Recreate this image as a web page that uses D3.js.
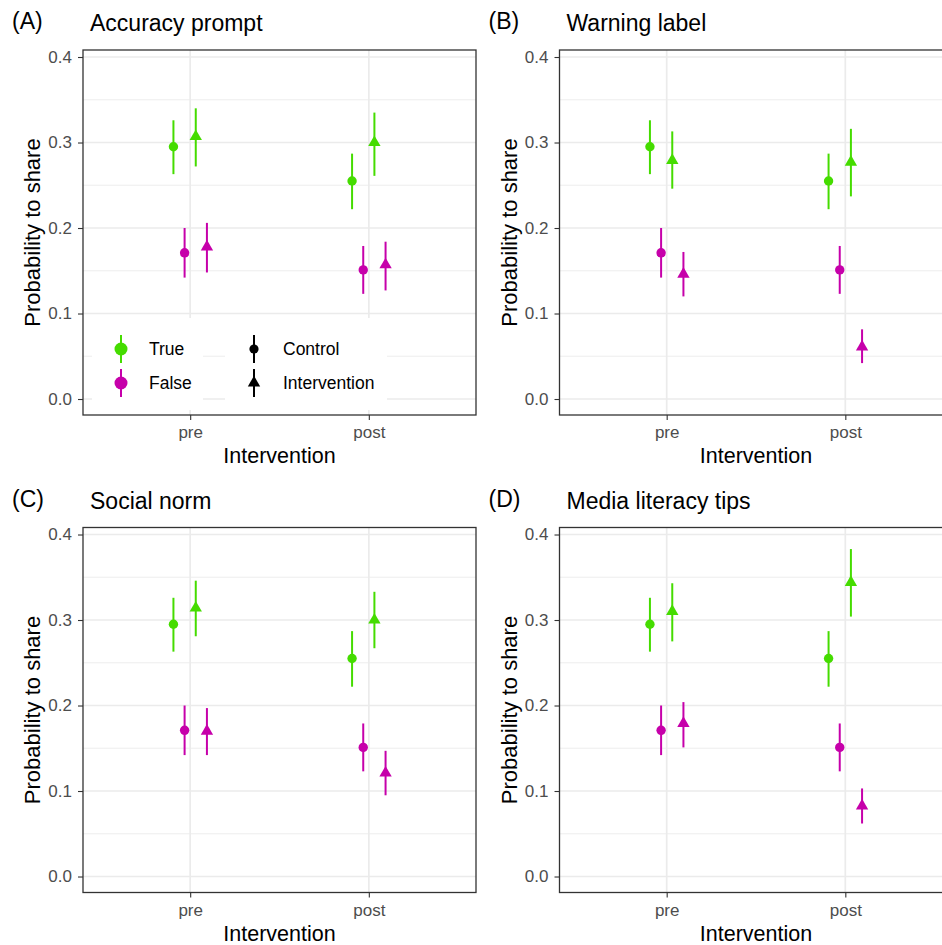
<!DOCTYPE html>
<html>
<head>
<meta charset="utf-8">
<script src="https://cdn.jsdelivr.net/npm/d3@7"></script>
<style>
  body { margin: 0; background: #fff; }
  svg { font-family: "Liberation Sans", Arial, Helvetica, sans-serif; }
  .tick text { fill: #4D4D4D; font-size: 17px; }
  .tick line { stroke: #333333; stroke-width: 1.1; }
</style>
</head>
<body>
<svg width="942" height="945"></svg>
<script>
// ---- data ----
var panelNames = ['Accuracy prompt', 'Warning label', 'Social norm', 'Media literacy tips'];
var panelTags = ['(A)', '(B)', '(C)', '(D)'];
var times = ['pre', 'post'];
var veracity = ['True', 'False'];
var groups = ['Control', 'Intervention'];
var yTicks = [0, 0.1, 0.2, 0.3, 0.4];
var yMinor = [0.05, 0.15, 0.25, 0.35];

// control group is the same in every panel (pre, post)
var controlTrue = [0.295, 0.255];
var controlTrueLo = [0.263, 0.222];
var controlTrueHi = [0.326, 0.287];
var controlFalse = [0.171, 0.151];
var controlFalseLo = [0.142, 0.123];
var controlFalseHi = [0.200, 0.179];

// intervention group, one row per panel (pre, post)
var interTrue = [[0.307, 0.300], [0.279, 0.277], [0.314, 0.300], [0.310, 0.344]];
var interTrueLo = [[0.272, 0.261], [0.246, 0.237], [0.281, 0.267], [0.275, 0.304]];
var interTrueHi = [[0.340, 0.335], [0.313, 0.316], [0.346, 0.333], [0.343, 0.383]];
var interFalse = [[0.178, 0.157], [0.146, 0.061], [0.170, 0.121], [0.179, 0.0825]];
var interFalseLo = [[0.148, 0.127], [0.120, 0.042], [0.142, 0.095], [0.151, 0.062]];
var interFalseHi = [[0.206, 0.184], [0.172, 0.0815], [0.197, 0.147], [0.204, 0.103]];

var colors = {True: '#45DC00', False: '#C600AA'};

// ---- layout ----
var svg = d3.select('svg');
var panelW = 393, panelH = 365;
var lefts = [83, 559.5], tops = [50, 527.5];
var dodgeW = 0.25;
// dodge order: Control-True, Control-False, Intervention-True, Intervention-False
var dodge = function(g, v) {
    var k = groups.indexOf(g) * 2 + veracity.indexOf(v);
    return dodgeW * ((k + 0.5) / 4 - 0.5);
};

var xScale = d3.scaleLinear().domain([0.4, 2.6]).range([0, panelW]);
var yScale = d3.scaleLinear().domain([-0.0187, 0.4082]).range([panelH, 0]);

var triangle = d3.symbol().type(d3.symbolTriangle).size(66);

function rows(p) {
    var out = [];
    times.forEach(function(t, ti) {
        out.push({t: ti, g: 'Control', v: 'True', m: controlTrue[ti], lo: controlTrueLo[ti], hi: controlTrueHi[ti]});
        out.push({t: ti, g: 'Control', v: 'False', m: controlFalse[ti], lo: controlFalseLo[ti], hi: controlFalseHi[ti]});
        out.push({t: ti, g: 'Intervention', v: 'True', m: interTrue[p][ti], lo: interTrueLo[p][ti], hi: interTrueHi[p][ti]});
        out.push({t: ti, g: 'Intervention', v: 'False', m: interFalse[p][ti], lo: interFalseLo[p][ti], hi: interFalseHi[p][ti]});
    });
    return out;
}

panelNames.forEach(function(name, p) {
    var tx = lefts[p % 2], ty = tops[Math.floor(p / 2)];
    var g = svg.append('g').attr('transform', 'translate(' + [tx, ty] + ')');

    // grid
    g.selectAll('.minor').data(yMinor).enter().append('line')
        .attr('x1', 0).attr('x2', panelW)
        .attr('y1', d => yScale(d)).attr('y2', d => yScale(d))
        .attr('stroke', '#EBEBEB').attr('stroke-width', 0.9);
    g.selectAll('.major').data(yTicks).enter().append('line')
        .attr('x1', 0).attr('x2', panelW)
        .attr('y1', d => yScale(d)).attr('y2', d => yScale(d))
        .attr('stroke', '#EBEBEB').attr('stroke-width', 1.7);
    g.selectAll('.vmajor').data(times).enter().append('line')
        .attr('x1', (d, i) => xScale(i + 1)).attr('x2', (d, i) => xScale(i + 1))
        .attr('y1', 0).attr('y2', panelH)
        .attr('stroke', '#EBEBEB').attr('stroke-width', 1.7);

    // point ranges
    var pts = g.selectAll('.pr').data(rows(p)).enter().append('g')
        .attr('transform', d => 'translate(' + xScale(d.t + 1 + dodge(d.g, d.v)) + ',0)');
    pts.append('line')
        .attr('y1', d => yScale(d.lo)).attr('y2', d => yScale(d.hi))
        .attr('stroke', d => colors[d.v]).attr('stroke-width', 2);
    pts.filter(d => d.g === 'Control').append('circle')
        .attr('cy', d => yScale(d.m)).attr('r', 4.7)
        .attr('fill', d => colors[d.v]);
    pts.filter(d => d.g === 'Intervention').append('path')
        .attr('d', triangle)
        .attr('transform', d => 'translate(0,' + yScale(d.m) + ')')
        .attr('fill', d => colors[d.v]);

    // legend (first panel only)
    if (p === 0) {
        var lg = g.append('g');
        lg.append('rect').attr('x', 9).attr('y', 268).attr('width', 111).attr('height', 92).attr('fill', '#fff');
        lg.append('rect').attr('x', 142).attr('y', 268).attr('width', 162).attr('height', 92).attr('fill', '#fff');
        veracity.forEach(function(v, i) {
            var ky = 299 + i * 34;
            lg.append('line').attr('x1', 38).attr('x2', 38).attr('y1', ky - 14).attr('y2', ky + 14)
                .attr('stroke', colors[v]).attr('stroke-width', 2);
            lg.append('circle').attr('cx', 38).attr('cy', ky).attr('r', 6.5).attr('fill', colors[v]);
            lg.append('text').attr('x', 66).attr('y', ky + 6).attr('font-size', 17.5).attr('fill', '#000').text(v);
        });
        groups.forEach(function(gr, i) {
            var ky = 299 + i * 34;
            lg.append('line').attr('x1', 171).attr('x2', 171).attr('y1', ky - 14).attr('y2', ky + 14)
                .attr('stroke', '#000').attr('stroke-width', 2);
            if (gr === 'Control') {
                lg.append('circle').attr('cx', 171).attr('cy', ky).attr('r', 4.6).attr('fill', '#000');
            } else {
                lg.append('path').attr('d', triangle).attr('transform', 'translate(171,' + ky + ')').attr('fill', '#000');
            }
            lg.append('text').attr('x', 200).attr('y', ky + 6).attr('font-size', 17.5).attr('fill', '#000').text(gr);
        });
    }

    // border
    g.append('rect').attr('width', panelW).attr('height', panelH)
        .attr('fill', 'none').attr('stroke', '#333333').attr('stroke-width', 1.3);

    // axes
    var xAxis = d3.axisBottom(xScale).tickValues([1, 2]).tickFormat(d => times[d - 1])
        .tickSize(5).tickPadding(6);
    var yAxis = d3.axisLeft(yScale).tickValues(yTicks).tickFormat(d3.format('.1f'))
        .tickSize(5).tickPadding(6);
    var xa = g.append('g').attr('transform', 'translate(0,' + panelH + ')').call(xAxis);
    var ya = g.append('g').call(yAxis);
    xa.select('.domain').remove();
    ya.select('.domain').remove();
    xa.selectAll('text').attr('font-size', 17);
    ya.selectAll('text').attr('font-size', 17);

    // axis titles
    g.append('text').attr('x', panelW / 2).attr('y', panelH + 48)
        .attr('text-anchor', 'middle').attr('font-size', 21.5).text('Intervention');
    g.append('text')
        .attr('transform', 'translate(' + [-43, panelH / 2] + ') rotate(-90)')
        .attr('text-anchor', 'middle').attr('font-size', 22).text('Probability to share');

    // titles
    g.append('text').attr('x', -71).attr('y', -21).attr('font-size', 23).text(panelTags[p]);
    g.append('text').attr('x', 7).attr('y', -19).attr('font-size', 23).text(name);
});
</script>
</body>
</html>
